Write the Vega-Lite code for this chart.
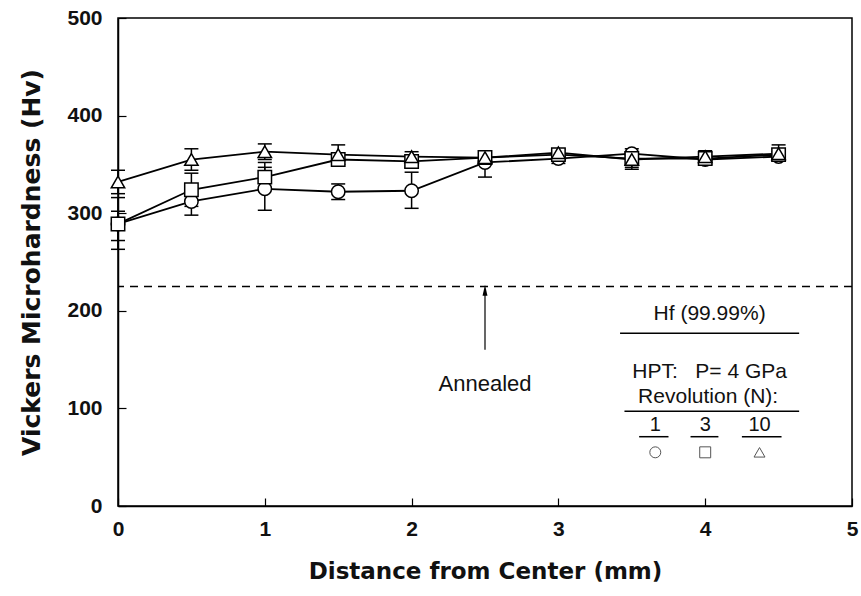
{
  "$schema": "https://vega.github.io/schema/vega-lite/v6.json",
  "width": 734,
  "height": 488,
  "autosize": "none",
  "padding": {"left": 118, "top": 18, "right": 9, "bottom": 90},
  "background": "white",
  "config": {
    "view": {"stroke": "black", "strokeWidth": 1.5},
    "axis": {
      "domainColor": "black", "domainWidth": 1.5, "tickColor": "black", "tickWidth": 1.2,
      "grid": false, "labelFont": "Liberation Sans", "labelFontWeight": "bold", "labelFontSize": 21,
      "labelColor": "#111", "titleFont": "DejaVu Sans", "titleFontWeight": "bold", "titleFontSize": 23, "titleColor": "#111"
    }
  },
  "datasets": {
    "pts": [
      {"N": "1", "x": 0, "y": 289, "lo": 272, "hi": 302},
      {"N": "1", "x": 0.5, "y": 312, "lo": 298, "hi": 326},
      {"N": "1", "x": 1, "y": 325, "lo": 303, "hi": 347},
      {"N": "1", "x": 1.5, "y": 322, "lo": 314, "hi": 330},
      {"N": "1", "x": 2, "y": 323, "lo": 305, "hi": 342},
      {"N": "1", "x": 2.5, "y": 352, "lo": 337, "hi": 362},
      {"N": "1", "x": 3, "y": 356, "lo": 351, "hi": 361},
      {"N": "1", "x": 3.5, "y": 361, "lo": 356, "hi": 366},
      {"N": "1", "x": 4, "y": 355, "lo": 350, "hi": 360},
      {"N": "1", "x": 4.5, "y": 358, "lo": 354, "hi": 363},
      {"N": "3", "x": 0, "y": 289, "lo": 263, "hi": 316},
      {"N": "3", "x": 0.5, "y": 324, "lo": 307, "hi": 341},
      {"N": "3", "x": 1, "y": 337, "lo": 325, "hi": 352},
      {"N": "3", "x": 1.5, "y": 355, "lo": 350, "hi": 360},
      {"N": "3", "x": 2, "y": 353, "lo": 347, "hi": 359},
      {"N": "3", "x": 2.5, "y": 357, "lo": 350, "hi": 364},
      {"N": "3", "x": 3, "y": 360, "lo": 355, "hi": 365},
      {"N": "3", "x": 3.5, "y": 356, "lo": 347, "hi": 363},
      {"N": "3", "x": 4, "y": 356, "lo": 350, "hi": 362},
      {"N": "3", "x": 4.5, "y": 360, "lo": 354, "hi": 366},
      {"N": "10", "x": 0, "y": 332, "lo": 320, "hi": 344},
      {"N": "10", "x": 0.5, "y": 355, "lo": 344, "hi": 366},
      {"N": "10", "x": 1, "y": 363, "lo": 355, "hi": 371},
      {"N": "10", "x": 1.5, "y": 360, "lo": 350, "hi": 370},
      {"N": "10", "x": 2, "y": 358, "lo": 352, "hi": 363},
      {"N": "10", "x": 2.5, "y": 357, "lo": 351, "hi": 363},
      {"N": "10", "x": 3, "y": 362, "lo": 358, "hi": 366},
      {"N": "10", "x": 3.5, "y": 355, "lo": 345, "hi": 360},
      {"N": "10", "x": 4, "y": 358, "lo": 352, "hi": 364},
      {"N": "10", "x": 4.5, "y": 361, "lo": 355, "hi": 370}
    ],
    "texts": [
      {"x": 4.03, "y": 197, "label": "Hf (99.99%)"},
      {"x": 4.03, "y": 137, "label": "HPT:\u00a0\u00a0\u00a0P=\u00a04\u00a0GPa"},
      {"x": 4.02, "y": 112, "label": "Revolution (N):"}
    ],
    "nums": [
      {"x": 3.66, "y": 83, "label": "1"},
      {"x": 4.0, "y": 83, "label": "3"},
      {"x": 4.37, "y": 83, "label": "10"}
    ],
    "anno": [
      {"x": 2.5, "y": 125, "label": "Annealed"}
    ],
    "lines": [
      {"x": 3.42, "x2": 4.64, "y": 177},
      {"x": 3.45, "x2": 4.64, "y": 97},
      {"x": 3.55, "x2": 3.75, "y": 71},
      {"x": 3.9, "x2": 4.09, "y": 71},
      {"x": 4.25, "x2": 4.52, "y": 71}
    ],
    "legpts": [
      {"N": "1", "x": 3.66, "y": 55},
      {"N": "3", "x": 4.0, "y": 55},
      {"N": "10", "x": 4.37, "y": 55}
    ]
  },
  "layer": [
    {
      "data": {"values": [{"y": 225}]},
      "mark": {"type": "rule", "stroke": "black", "strokeWidth": 1.5, "strokeDash": [8, 6]},
      "encoding": {"y": {"field": "y", "type": "quantitative"}}
    },
    {
      "data": {"values": [{"x": 2.5, "y": 160, "y2": 218}]},
      "mark": {"type": "rule", "stroke": "black", "strokeWidth": 1.2},
      "encoding": {"x": {"field": "x", "type": "quantitative"}, "y": {"field": "y", "type": "quantitative"}, "y2": {"field": "y2"}}
    },
    {
      "data": {"values": [{"x": 2.5, "y": 221}]},
      "mark": {"type": "point", "shape": "M0,-1L0.45,1L-0.45,1Z", "filled": true, "fill": "black", "strokeWidth": 0, "size": 120, "opacity": 1},
      "encoding": {"x": {"field": "x", "type": "quantitative"}, "y": {"field": "y", "type": "quantitative"}}
    },
    {
      "data": {"name": "pts"},
      "mark": {"type": "rule", "stroke": "black", "strokeWidth": 1.5},
      "encoding": {"x": {"field": "x", "type": "quantitative"}, "y": {"field": "lo", "type": "quantitative"}, "y2": {"field": "hi"}}
    },
    {
      "data": {"name": "pts"},
      "mark": {"type": "tick", "orient": "horizontal", "color": "black", "thickness": 1.5, "size": 14, "opacity": 1},
      "encoding": {"x": {"field": "x", "type": "quantitative"}, "y": {"field": "lo", "type": "quantitative"}}
    },
    {
      "data": {"name": "pts"},
      "mark": {"type": "tick", "orient": "horizontal", "color": "black", "thickness": 1.5, "size": 14, "opacity": 1},
      "encoding": {"x": {"field": "x", "type": "quantitative"}, "y": {"field": "hi", "type": "quantitative"}}
    },
    {
      "data": {"name": "pts"},
      "mark": {"type": "line", "stroke": "black", "strokeWidth": 1.8},
      "encoding": {
        "x": {"field": "x", "type": "quantitative", "scale": {"domain": [0, 5], "nice": false},
          "axis": {"values": [0, 1, 2, 3, 4, 5], "format": "d", "tickSize": -8, "labelPadding": 20, "title": "Distance from Center (mm)", "titlePadding": 21, "labelFlush": false}},
        "y": {"field": "y", "type": "quantitative", "scale": {"domain": [0, 500], "nice": false},
          "axis": {"values": [0, 100, 200, 300, 400, 500], "format": "d", "tickSize": -8, "labelPadding": 24, "title": "Vickers Microhardness (Hv)", "titlePadding": 22, "titleFontSize": 25, "labelFlush": false}},
        "detail": {"field": "N"}
      }
    },
    {
      "data": {"name": "pts"},
      "mark": {"type": "point", "filled": true, "fill": "white", "stroke": "black", "strokeWidth": 1.5, "size": 180, "opacity": 1},
      "encoding": {
        "x": {"field": "x", "type": "quantitative"},
        "y": {"field": "y", "type": "quantitative"},
        "shape": {"field": "N", "type": "nominal", "scale": {"domain": ["1", "3", "10"], "range": ["circle", "square", "triangle-up"]}, "legend": null}
      }
    },
    {
      "data": {"name": "texts"},
      "mark": {"type": "text", "font": "Liberation Sans", "fontSize": 21, "color": "#111", "align": "center", "baseline": "middle"},
      "encoding": {"x": {"field": "x", "type": "quantitative"}, "y": {"field": "y", "type": "quantitative"}, "text": {"field": "label"}}
    },
    {
      "data": {"name": "nums"},
      "mark": {"type": "text", "font": "Liberation Sans", "fontSize": 20, "color": "#111", "align": "center", "baseline": "middle"},
      "encoding": {"x": {"field": "x", "type": "quantitative"}, "y": {"field": "y", "type": "quantitative"}, "text": {"field": "label"}}
    },
    {
      "data": {"name": "anno"},
      "mark": {"type": "text", "font": "Liberation Sans", "fontSize": 22, "color": "#111", "align": "center", "baseline": "middle"},
      "encoding": {"x": {"field": "x", "type": "quantitative"}, "y": {"field": "y", "type": "quantitative"}, "text": {"field": "label"}}
    },
    {
      "data": {"name": "lines"},
      "mark": {"type": "rule", "stroke": "black", "strokeWidth": 1.5},
      "encoding": {"x": {"field": "x", "type": "quantitative"}, "x2": {"field": "x2"}, "y": {"field": "y", "type": "quantitative"}}
    },
    {
      "data": {"name": "legpts"},
      "mark": {"type": "point", "filled": false, "stroke": "#555", "strokeWidth": 1, "size": 120, "opacity": 1},
      "encoding": {
        "x": {"field": "x", "type": "quantitative"},
        "y": {"field": "y", "type": "quantitative"},
        "shape": {"field": "N", "type": "nominal", "scale": {"domain": ["1", "3", "10"], "range": ["circle", "square", "triangle-up"]}, "legend": null}
      }
    }
  ]
}
